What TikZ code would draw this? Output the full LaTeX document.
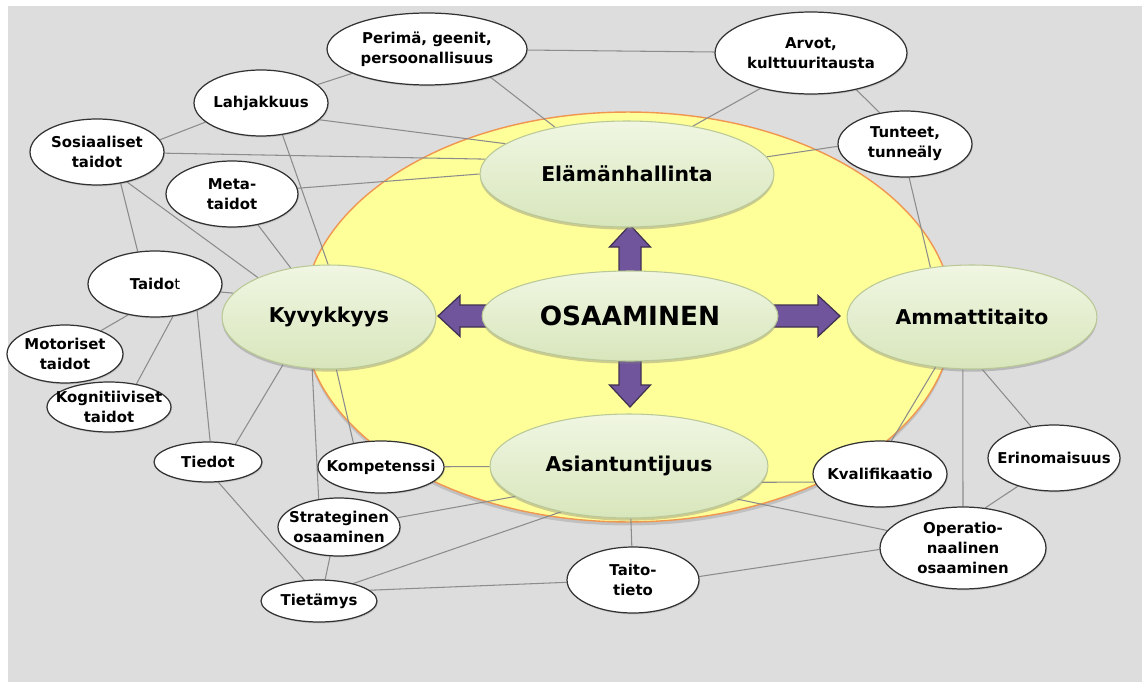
\documentclass[tikz,border=0pt]{standalone}
\usepackage{fontspec}
\setmainfont{DejaVu Sans}
\definecolor{canvasgray}{RGB}{221,221,221}
\definecolor{fieldyellow}{RGB}{255,255,153}
\definecolor{fieldedge}{RGB}{240,150,80}
\definecolor{coretop}{RGB}{240,246,226}
\definecolor{coremid}{RGB}{228,239,205}
\definecolor{corebottom}{RGB}{216,230,188}
\definecolor{coreedge}{RGB}{185,200,150}
\definecolor{linkgray}{RGB}{140,140,140}
\definecolor{leafedge}{RGB}{50,50,50}
\definecolor{arrowfill}{RGB}{112,84,156}
\definecolor{arrowedge}{RGB}{63,49,81}
\usetikzlibrary{shapes.geometric, shadows, calc}

\pgfdeclarelayer{back}
\pgfdeclarelayer{links}
\pgfsetlayers{back,links,main}

\tikzset{
  leaf/.style={ellipse, draw=leafedge, line width=0.7pt, fill=white,
    inner xsep=-6pt, inner ysep=0pt, align=center,
    font=\fontsize{8.5}{11.3}\selectfont\bfseries,
    drop shadow={opacity=0.25, shadow xshift=0.5pt, shadow yshift=-0.8pt}},
  core/.style={ellipse, draw=coreedge, line width=0.6pt, top color=coretop,
    middle color=coremid, bottom color=corebottom, inner sep=0pt,
    font=\fontsize{11.6}{14}\selectfont\bfseries,
    drop shadow={opacity=0.4, shadow xshift=0pt, shadow yshift=-1.5pt}},
  link/.style={draw=linkgray, line width=0.6pt},
  blockarrow/.style={draw=arrowedge, line width=0.7pt, fill=arrowfill},
  oval/.style 2 args={minimum width=#1, minimum height=#2}
}

\newcommand{\osaarrow}[2]{%
  \filldraw[blockarrow, shift={(osa.center)}, rotate=#1]
    (0,-11) -- (#2-22,-11) -- (#2-22,-20.5) -- (#2,0)
    -- (#2-22,20.5) -- (#2-22,11) -- (0,11) -- cycle;}

\begin{document}
\begin{tikzpicture}[x=0.02cm, y=-0.02cm]
  \useasboundingbox (0,0) rectangle (1142,682);

  \begin{pgfonlayer}{back}
    \fill[canvasgray] (8,6) rectangle (1142,682);
    \node[ellipse, draw=fieldedge, line width=0.8pt, fill=fieldyellow,
      oval={13cm}{8.2cm},
      drop shadow={opacity=0.3, shadow xshift=0pt, shadow yshift=-2pt}]
      (field) at (628,317) {};
  \end{pgfonlayer}

  \node[core, oval={5.88cm}{2.12cm}] (elam) at (627,174) {Elämänhallinta};
  \node[core, oval={5.92cm}{1.8cm}, font=\fontsize{15}{18}\selectfont\bfseries]
    (osa) at (630,316) {OSAAMINEN};
  \node[core, oval={4.28cm}{2.08cm}] (kyv) at (329,317) {Kyvykkyys};
  \node[core, oval={5cm}{2.08cm}] (amm) at (972,317) {Ammattitaito};
  \node[core, oval={5.56cm}{2.08cm}] (asi) at (629,466) {Asiantuntijuus};

  \node[leaf, oval={4cm}{1.44cm}] (per) at (427,49) {Perimä, geenit,\\persoonallisuus};
  \node[leaf, oval={3.84cm}{1.64cm}] (arv) at (811,53) {Arvot,\\kulttuuritausta};
  \node[leaf, oval={2.68cm}{1.32cm}] (lah) at (261,103) {Lahjakkuus};
  \node[leaf, oval={2.68cm}{1.32cm}] (sos) at (97,152) {Sosiaaliset\\taidot};
  \node[leaf, oval={2.64cm}{1.32cm}] (meta) at (232,194) {Meta-\\taidot};
  \node[leaf, oval={2.68cm}{1.32cm}] (tun) at (905,144) {Tunteet,\\tunneäly};
  \node[leaf, oval={2.68cm}{1.32cm}] (tai) at (155,284) {Taido{\mdseries t}};
  \node[leaf, oval={2.32cm}{1.16cm}] (mot) at (65,354) {Motoriset\\taidot};
  \node[leaf, oval={2.48cm}{1cm}] (kog) at (109,407) {Kognitiiviset\\taidot};
  \node[leaf, oval={2.16cm}{0.8cm}] (tied) at (208,462) {Tiedot};
  \node[leaf, oval={2.52cm}{1.04cm}] (komp) at (381,467) {Kompetenssi};
  \node[leaf, oval={2.44cm}{1.16cm}] (stra) at (339,527) {Strateginen\\osaaminen};
  \node[leaf, oval={2.32cm}{0.84cm}] (tiet) at (319,601) {Tietämys};
  \node[leaf, oval={2.64cm}{1.32cm}] (tt) at (633,580) {Taito-\\tieto};
  \node[leaf, oval={2.68cm}{1.32cm}] (kval) at (880,474) {Kvalifikaatio};
  \node[leaf, oval={2.64cm}{1.32cm}] (erin) at (1054,458) {Erinomaisuus};
  \node[leaf, oval={3.32cm}{1.64cm}] (oper) at (963,548) {Operatio-\\naalinen\\osaaminen};

  \begin{pgfonlayer}{links}
    \draw[link] (per) -- (arv);
    \draw[link] (per) -- (lah);
    \draw[link] (per.-24) -- (elam.147);
    \draw[link] (arv.215) -- (elam.36);
    \draw[link] (arv.-39) -- (tun.129);
    \draw[link] (tun.182) -- (elam.7);
    \draw[link] (tun.-83) -- (amm.130);
    \draw[link] (lah.199) -- (sos.11);
    \draw[link] (lah.-16) -- (elam.166);
    \draw[link] (lah.-56) -- (kyv.91);
    \draw[link] (sos.-1) -- (elam.174);
    \draw[link] (sos.-45) -- (kyv.151);
    \draw[link] (sos.-53) -- (tai.118);
    \draw[link] (meta.5) -- (elam.180);
    \draw[link] (meta.-50) -- (kyv.128);
    \draw[link] (tai.-7) -- (kyv.166);
    \draw[link] (tai.229) -- (mot.33);
    \draw[link] (tai.-61) -- (kog.40);
    \draw[link] (tai.-32) -- (tied.84);
    \draw[link] (kyv.226) -- (tied.33);
    \draw[link] (kyv.252) -- (stra.126);
    \draw[link] (kyv.-82) -- (komp.139);
    \draw[link] (komp) -- (asi);
    \draw[link] (stra.9) -- (asi.195);
    \draw[link] (tiet.27) -- (asi.214);
    \draw[link] (tiet.12) -- (tt.182);
    \draw[link] (tied.-63) -- (tiet.125);
    \draw[link] (stra.253) -- (tiet.74);
    \draw[link] (asi) -- (tt);
    \draw[link] (tt.3) -- (oper.181);
    \draw[link] (asi.-7) -- (kval.187);
    \draw[link] (asi.-17) -- (oper.167);
    \draw[link] (amm.234) -- (kval.71);
    \draw[link] (amm.260) -- (oper.north);
    \draw[link] (amm.-79) -- (erin.126);
    \draw[link] (erin.218) -- (oper.61);

    \osaarrow{90}{91}
    \osaarrow{270}{91}
    \osaarrow{180}{192}
    \osaarrow{0}{210}
  \end{pgfonlayer}
\end{tikzpicture}
\end{document}
